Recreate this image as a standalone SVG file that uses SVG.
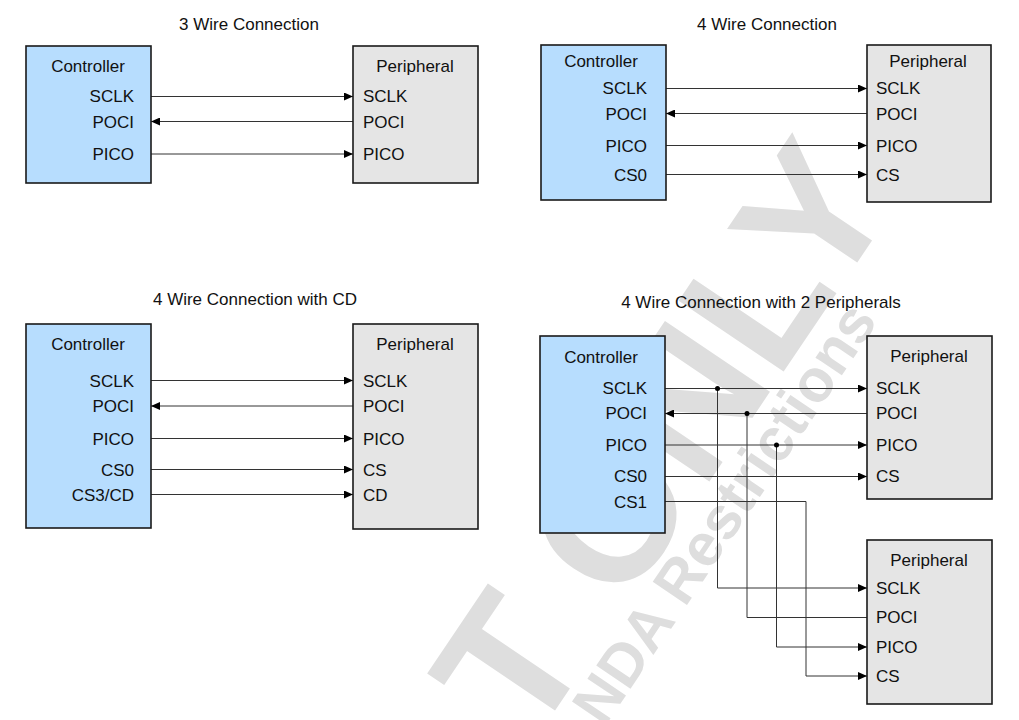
<svg xmlns="http://www.w3.org/2000/svg" width="1019" height="720" viewBox="0 0 1019 720">
<defs>
<marker id="arr" markerWidth="9" markerHeight="8" refX="9" refY="4" orient="auto" markerUnits="userSpaceOnUse"><path d="M0,0 L9,4 L0,8 z" fill="#000"/></marker>
<style>
text{font-family:"Liberation Sans",Arial,sans-serif;font-size:17px;fill:#111}
.wm{font-weight:bold;fill:#dedede}
.t{text-anchor:middle}
.r{text-anchor:end}
.ctl{fill:#b7ddfe;stroke:#1a1a1a;stroke-width:1.6}
.per{fill:#e5e5e5;stroke:#1a1a1a;stroke-width:1.6}
.w{fill:none;stroke:#333;stroke-width:1}
.a{marker-end:url(#arr)}
.dot{fill:#000}
</style>
</defs>
<rect width="1019" height="720" fill="#fff"/>
<g id="watermark">
<text class="wm" style="font-size:184px" transform="translate(531,746) rotate(-56)">T ONLY</text>
<text class="wm" style="font-size:60px" transform="translate(604,728) rotate(-56)">NDA Restrictions</text>
</g>
<g id="titles">
<text class="t" x="249" y="30">3 Wire Connection</text>
<text class="t" x="767" y="30">4 Wire Connection</text>
<text class="t" x="255" y="305">4 Wire Connection with CD</text>
<text class="t" x="761" y="308">4 Wire Connection with 2 Peripherals</text>
</g>
<g id="connectors">
<path class="w a" d="M151,96.5 H353"/>
<path class="w a" d="M353,121.5 H151"/>
<path class="w a" d="M151,154 H353"/>
<path class="w a" d="M666,88.5 H867"/>
<path class="w a" d="M867,113.5 H666"/>
<path class="w a" d="M666,145.5 H867"/>
<path class="w a" d="M666,174.5 H867"/>
<path class="w a" d="M151,380.5 H353"/>
<path class="w a" d="M353,406 H151"/>
<path class="w a" d="M151,438.5 H353"/>
<path class="w a" d="M151,469.5 H353"/>
<path class="w a" d="M151,494.5 H353"/>
<path class="w a" d="M665,388.5 H867"/>
<path class="w a" d="M867,413.5 H665"/>
<path class="w a" d="M665,445 H867"/>
<path class="w a" d="M665,476.5 H867"/>
<path class="w a" d="M717.5,388.5 V588 H867"/>
<path class="w" d="M867,617.5 H747 V413.5"/>
<path class="w a" d="M776.5,445 V647 H867"/>
<path class="w a" d="M665,501.5 H806 V676 H867"/>
<circle class="dot" cx="717.5" cy="388.5" r="2.5"/>
<circle class="dot" cx="747" cy="413.5" r="2.5"/>
<circle class="dot" cx="776.5" cy="445" r="2.5"/>
</g>
<g id="ctrl1">
<rect class="ctl" x="26" y="46" width="125" height="137"/>
<text class="t" x="88" y="72">Controller</text>
<text class="r" x="134" y="102">SCLK</text>
<text class="r" x="134" y="128">POCI</text>
<text class="r" x="134" y="160">PICO</text>
</g>
<g id="per1">
<rect class="per" x="353" y="46" width="125" height="137"/>
<text class="t" x="415" y="72">Peripheral</text>
<text x="363" y="102">SCLK</text>
<text x="363" y="128">POCI</text>
<text x="363" y="160">PICO</text>
</g>
<g id="ctrl2">
<rect class="ctl" x="541" y="45" width="125" height="155"/>
<text class="t" x="601" y="66.5">Controller</text>
<text class="r" x="647" y="94">SCLK</text>
<text class="r" x="647" y="120">POCI</text>
<text class="r" x="647" y="151.5">PICO</text>
<text class="r" x="647" y="181">CS0</text>
</g>
<g id="per2">
<rect class="per" x="867" y="45" width="124" height="157"/>
<text class="t" x="928" y="66.5">Peripheral</text>
<text x="876" y="94">SCLK</text>
<text x="876" y="120">POCI</text>
<text x="876" y="151.5">PICO</text>
<text x="876" y="181">CS</text>
</g>
<g id="ctrl3">
<rect class="ctl" x="26" y="324" width="125" height="204"/>
<text class="t" x="88" y="350">Controller</text>
<text class="r" x="134" y="386.5">SCLK</text>
<text class="r" x="134" y="412">POCI</text>
<text class="r" x="134" y="445">PICO</text>
<text class="r" x="134" y="475.5">CS0</text>
<text class="r" x="134" y="500.5">CS3/CD</text>
</g>
<g id="per3">
<rect class="per" x="353" y="324" width="125" height="205"/>
<text class="t" x="415" y="350">Peripheral</text>
<text x="363" y="386.5">SCLK</text>
<text x="363" y="412">POCI</text>
<text x="363" y="445">PICO</text>
<text x="363" y="475.5">CS</text>
<text x="363" y="500.5">CD</text>
</g>
<g id="ctrl4">
<rect class="ctl" x="540" y="336" width="125" height="197"/>
<text class="t" x="601" y="363">Controller</text>
<text class="r" x="647" y="393.5">SCLK</text>
<text class="r" x="647" y="419">POCI</text>
<text class="r" x="647" y="451">PICO</text>
<text class="r" x="647" y="482">CS0</text>
<text class="r" x="647" y="507.5">CS1</text>
</g>
<g id="per4a">
<rect class="per" x="867" y="336" width="125" height="163"/>
<text class="t" x="929" y="361.5">Peripheral</text>
<text x="876" y="393.5">SCLK</text>
<text x="876" y="419">POCI</text>
<text x="876" y="451">PICO</text>
<text x="876" y="482">CS</text>
</g>
<g id="per4b">
<rect class="per" x="867" y="540" width="125" height="164"/>
<text class="t" x="929" y="566">Peripheral</text>
<text x="876" y="594">SCLK</text>
<text x="876" y="623">POCI</text>
<text x="876" y="652.5">PICO</text>
<text x="876" y="681.5">CS</text>
</g>
</svg>
